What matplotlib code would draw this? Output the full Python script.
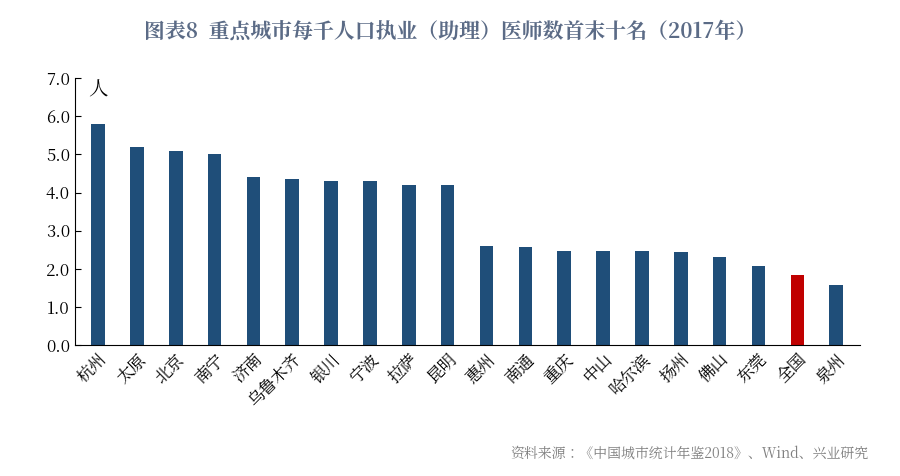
import matplotlib.pyplot as plt
from matplotlib import font_manager as fm
import numpy as np

# find whichever CJK font name matplotlib actually registered
cjk = [f.name for f in fm.fontManager.ttflist if 'CJK' in f.name]
if not cjk:
    for path in fm.findSystemFonts():
        if 'CJK' in path or 'cjk' in path.lower():
            try:
                fm.fontManager.addfont(path)
            except Exception:
                pass
    cjk = [f.name for f in fm.fontManager.ttflist if 'CJK' in f.name]
pref = [n for n in cjk if 'SC' in n] or cjk
plt.rcParams['font.family'] = 'sans-serif'
plt.rcParams['font.sans-serif'] = pref[:1] + ['DejaVu Sans']

cities = ['杭州', '太原', '北京', '南宁', '济南', '乌鲁木齐', '银川', '宁波', '拉萨', '昆明',
          '惠州', '南通', '重庆', '中山', '哈尔滨', '扬州', '佛山', '东莞', '全国', '泉州']
values = [5.8, 5.2, 5.1, 5.0, 4.4, 4.35, 4.3, 4.3, 4.2, 4.2,
          2.6, 2.57, 2.47, 2.47, 2.47, 2.43, 2.3, 2.08, 1.83, 1.57]
yticks = [0.0, 1.0, 2.0, 3.0, 4.0, 5.0, 6.0, 7.0]

colors = ['#c00000' if c == '全国' else '#1f4e79' for c in cities]

fig = plt.figure(figsize=(9, 4.76), dpi=100)
ax = fig.add_axes([0.083, 0.275, 0.872, 0.561])
x = np.arange(len(cities))
ax.bar(x, values, width=0.35, color=colors)
ax.set_xlim(-0.6, len(cities) - 0.4)
ax.set_ylim(0, 7)
ax.set_yticks(yticks)
ax.set_yticklabels([f'{v:.1f}' for v in yticks], fontsize=12)
ax.set_xticks(x)
ax.set_xticklabels(cities, rotation=45, ha='right', rotation_mode='anchor', fontsize=12)
ax.tick_params(axis='x', length=0, pad=4)
ax.tick_params(axis='y', direction='in', length=4)
for s in ['top', 'right']:
    ax.spines[s].set_visible(False)
ax.text(0.0, 6.55, '人', fontsize=14, ha='center')

fig.text(0.5, 0.935, '图表8  重点城市每千人口执业（助理）医师数首末十名（2017年）',
         ha='center', va='center', fontsize=15, fontweight='bold', color='#5b6b86')
fig.text(0.965, 0.045, '资料来源：《中国城市统计年鉴2018》、Wind、兴业研究',
         ha='right', va='center', fontsize=10, color='#7f7f7f')

fig.savefig('out.png', dpi=100)
